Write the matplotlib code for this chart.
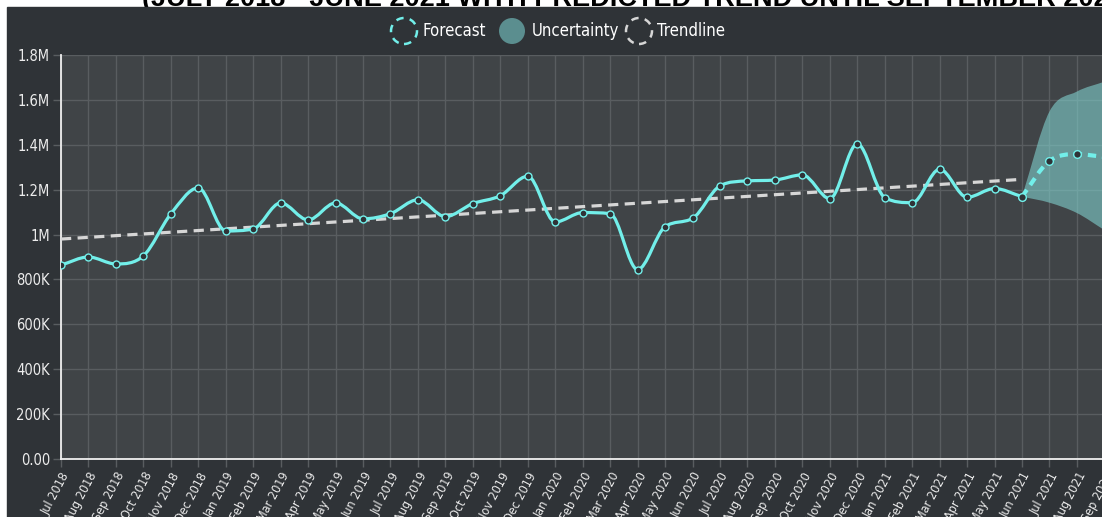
import numpy as np
import matplotlib
matplotlib.use("Agg")
from matplotlib import pyplot as plt
from matplotlib import font_manager
from matplotlib.path import Path
from matplotlib.patches import PathPatch, Rectangle, Circle

# ---------------- data ----------------
months = ["Jul 2018", "Aug 2018", "Sep 2018", "Oct 2018", "Nov 2018", "Dec 2018",
          "Jan 2019", "Feb 2019", "Mar 2019", "Apr 2019", "May 2019", "Jun 2019",
          "Jul 2019", "Aug 2019", "Sep 2019", "Oct 2019", "Nov 2019", "Dec 2019",
          "Jan 2020", "Feb 2020", "Mar 2020", "Apr 2020", "May 2020", "Jun 2020",
          "Jul 2020", "Aug 2020", "Sep 2020", "Oct 2020", "Nov 2020", "Dec 2020",
          "Jan 2021", "Feb 2021", "Mar 2021", "Apr 2021", "May 2021", "Jun 2021",
          "Jul 2021", "Aug 2021", "Sep 2021"]

actual = [864000, 900000, 869000, 905000, 1092000, 1208000,
          1016000, 1025000, 1141000, 1065000, 1141000, 1070000,
          1093000, 1155000, 1080000, 1138000, 1173000, 1260000,
          1056000, 1098000, 1093000, 844000, 1035000, 1072000,
          1217000, 1239000, 1243000, 1266000, 1160000, 1404000,
          1165000, 1142000, 1291000, 1166000, 1205000, 1169000]

forecast_months = ["Jun 2021", "Jul 2021", "Aug 2021", "Sep 2021"]
forecast = [1169000, 1328000, 1358000, 1346000]
upper = [1169000, 1548000, 1637000, 1681000]
lower = [1169000, 1142000, 1096000, 1020000]

trend_months = ["Jul 2018", "Jun 2021"]
trend = [980000, 1246000]

yticks = [0, 200000, 400000, 600000, 800000, 1000000, 1200000, 1400000, 1600000, 1800000]
ytick_labels = ["0.00", "200K", "400K", "600K", "800K", "1M", "1.2M", "1.4M", "1.6M", "1.8M"]

title = "(JULY 2018 - JUNE 2021 WITH PREDICTED TREND UNTIL SEPTEMBER 2021)"

# ---------------- style ----------------
W, H = 1102, 517
panel_bg = "#2f3337"
plot_bg = "#404447"
grid_col = "#595d60"
cyan = "#72efea"
band_col = "#80d0cd"
trend_col = "#d6d6d6"
txt_col = "#ececec"

# pick a narrow font if one is around
names = {f.name for f in font_manager.fontManager.ttflist}
cond = {f.name for f in font_manager.fontManager.ttflist if f.stretch in ("condensed", "semi-condensed", 75, 87)}
if "Liberation Sans Narrow" in names:
    nfont = dict(family=["Liberation Sans Narrow", "DejaVu Sans"])
elif "DejaVu Sans" in cond:
    nfont = dict(family=["DejaVu Sans"], stretch="condensed")
else:
    nfont = dict(family=["Roboto", "DejaVu Sans"])


def px(x, y):
    return x / W, 1 - y / H


def monotone_path(xs, ys):
    # monotone cubic bezier through the points (no overshoot)
    x = np.asarray(xs, float)
    y = np.asarray(ys, float)
    n = len(x)
    d = np.diff(y) / np.diff(x)
    m = np.zeros(n)
    m[0] = d[0]
    m[-1] = d[-1]
    for i in range(1, n - 1):
        if d[i - 1] == 0 or d[i] == 0 or np.sign(d[i - 1]) != np.sign(d[i]):
            m[i] = 0
        else:
            m[i] = (d[i - 1] + d[i]) / 2
    for i in range(n - 1):
        if abs(d[i]) < 1e-9:
            m[i] = m[i + 1] = 0
            continue
        a = m[i] / d[i]
        b = m[i + 1] / d[i]
        sq = a * a + b * b
        if sq <= 9:
            continue
        t = 3 / np.sqrt(sq)
        m[i] = a * t * d[i]
        m[i + 1] = b * t * d[i]
    verts = [(x[0], y[0])]
    codes = [Path.MOVETO]
    for i in range(n - 1):
        dx = (x[i + 1] - x[i]) / 3
        verts += [(x[i] + dx, y[i] + dx * m[i]),
                  (x[i + 1] - dx, y[i + 1] - dx * m[i + 1]),
                  (x[i + 1], y[i + 1])]
        codes += [Path.CURVE4] * 3
    return np.array(verts), codes


fig = plt.figure(figsize=(W / 100, H / 100), dpi=100)
fig.patch.set_facecolor("white")
fig.patches.append(Rectangle(px(7, H), (W - 7) / W, (H - 7) / H,
                             transform=fig.transFigure, color=panel_bg, zorder=-5))

fig.text(142 / W, 1 - 6 / H, title, fontsize=19.5, fontweight="bold", color="black",
         family=["Liberation Sans", "DejaVu Sans"], va="baseline", ha="left", zorder=-6)

x0, x1 = 61, 61 + 38 * (1022 - 61) / 35
y0, y1 = 459, 55
ax = fig.add_axes([x0 / W, (H - y0) / H, (x1 - x0) / W, (y0 - y1) / H])
ax.set_zorder(2)
ax.set_facecolor(plot_bg)
ax.set_xlim(0, len(months) - 1)
ax.set_ylim(0, 1800000)

idx = {m: i for i, m in enumerate(months)}
xa = [idx[m] for m in months[:len(actual)]]
xf = [idx[m] for m in forecast_months]
xt = [idx[m] for m in trend_months]

ax.set_xticks(range(len(months)))
ax.set_xticklabels(months, rotation=62, ha="right", va="top", rotation_mode="anchor",
                   fontsize=9, color=txt_col, **nfont)
ax.set_yticks(yticks)
ax.set_yticklabels(ytick_labels, fontsize=10.5, color=txt_col, **nfont)
ax.tick_params(axis="both", colors=grid_col, length=6, width=1, pad=2)
ax.tick_params(axis="both", labelcolor=txt_col)
ax.grid(True, color=grid_col, linewidth=1)
ax.set_axisbelow(True)
for s in ["top", "right"]:
    ax.spines[s].set_visible(False)
for s in ["left", "bottom"]:
    ax.spines[s].set_color("#f0f0f0")
    ax.spines[s].set_linewidth(1.3)

# uncertainty band
uv, uc = monotone_path(xf, upper)
lv, lc = monotone_path(xf[::-1], lower[::-1])
band_verts = np.vstack([uv, lv, uv[:1]])
band_codes = uc + [Path.LINETO] + lc[1:] + [Path.CLOSEPOLY]
ax.add_patch(PathPatch(Path(band_verts, band_codes), facecolor=band_col, alpha=0.6,
                       edgecolor="none", zorder=2))

# trendline
ax.plot(xt, trend, color=trend_col, lw=2.3, dashes=(3.2, 2), zorder=3)

# actual values
v, c = monotone_path(xa, actual)
ax.add_patch(PathPatch(Path(v, c), facecolor="none", edgecolor=cyan, lw=2.3, zorder=4,
                       capstyle="round", joinstyle="round"))
ax.plot(xa, actual, ls="none", marker="o", ms=5, mfc=panel_bg, mec=cyan, mew=1, zorder=5)

# forecast
v, c = monotone_path(xf, forecast)
ax.add_patch(PathPatch(Path(v, c), facecolor="none", edgecolor=cyan, lw=3, zorder=4,
                       linestyle=(0, (2, 1.4))))
ax.plot(xf[:3], forecast[:3], ls="none", marker="o", ms=5.5, mfc=panel_bg, mec=cyan, mew=1,
        zorder=5)

# legend
r = 13 / 100
cy = (H - 31) / 100
fig.patches.append(Circle((404 / 100, cy), r, transform=fig.dpi_scale_trans, facecolor="none",
                          edgecolor=cyan, lw=1.8, linestyle=(0, (3, 2.5))))
fig.patches.append(Circle((512 / 100, cy), r, transform=fig.dpi_scale_trans,
                          facecolor="#5b8e8f", edgecolor="none"))
fig.patches.append(Circle((639 / 100, cy), r, transform=fig.dpi_scale_trans, facecolor="none",
                          edgecolor=trend_col, lw=1.8, linestyle=(0, (3, 2.5))))
for lx, lab in [(422, "Forecast"), (532, "Uncertainty"), (657, "Trendline")]:
    fig.text(lx / W, 1 - 31 / H, lab, fontsize=12, color="white", va="center", ha="left",
             **nfont)

fig.savefig("out.png", dpi=100, facecolor=fig.get_facecolor())
